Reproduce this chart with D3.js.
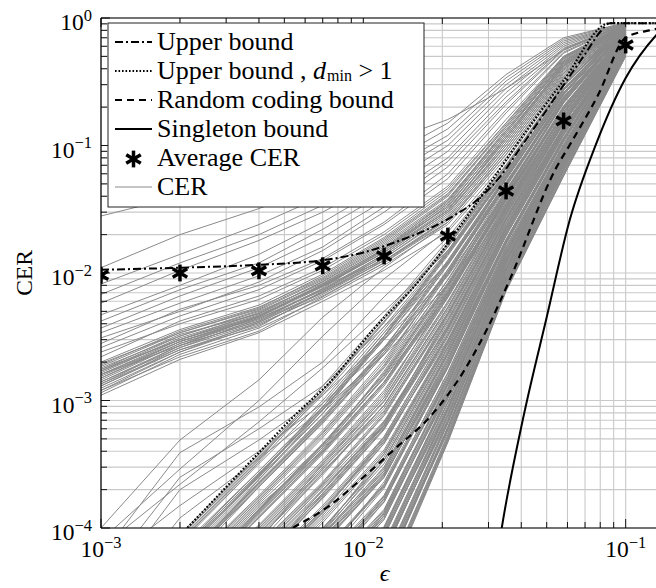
<!DOCTYPE html>
<html>
<head>
<meta charset="utf-8">
<script src="https://cdn.jsdelivr.net/npm/d3@7"></script>
<style>
  html, body { margin: 0; padding: 0; background: #fff; }
  svg text { font-family: "Liberation Serif", "DejaVu Serif", serif; fill: #000; }
</style>
</head>
<body>
<svg id="chart" width="656" height="588"></svg>
<script>
// Erasure probabilities at which every code was simulated
const epsilon = [0.001, 0.002, 0.004, 0.007, 0.012, 0.021, 0.035, 0.058, 0.1];

// Average CER over the ensemble
const averageCER = [0.0096, 0.0100, 0.0104, 0.0114, 0.0136, 0.0195, 0.044, 0.156, 0.614];

// CER of codes with an error floor (one row per code, columns follow epsilon)
const cerFloorCurves = [
  [0.0011, 0.0021, 0.0034, 0.0060, 0.0105, 0.021, 0.07, 0.30, 0.84],
  [0.00115, 0.0023, 0.0037, 0.0063, 0.0115, 0.024, 0.08, 0.33, 0.85],
  [0.0012, 0.0022, 0.0035, 0.0065, 0.012, 0.025, 0.085, 0.34, 0.86],
  [0.00125, 0.0024, 0.0039, 0.0068, 0.0125, 0.026, 0.09, 0.35, 0.85],
  [0.0013, 0.0025, 0.0040, 0.0066, 0.012, 0.027, 0.095, 0.37, 0.86],
  [0.0013, 0.0026, 0.0041, 0.0070, 0.013, 0.028, 0.10, 0.38, 0.87],
  [0.00135, 0.0025, 0.0038, 0.0072, 0.0135, 0.030, 0.10, 0.39, 0.86],
  [0.0014, 0.0027, 0.0042, 0.0071, 0.013, 0.029, 0.105, 0.40, 0.87],
  [0.0014, 0.0026, 0.0044, 0.0075, 0.014, 0.031, 0.11, 0.41, 0.87],
  [0.00145, 0.0028, 0.0043, 0.0074, 0.0135, 0.030, 0.105, 0.40, 0.88],
  [0.0015, 0.0028, 0.0045, 0.0078, 0.0145, 0.032, 0.11, 0.42, 0.87],
  [0.0015, 0.0029, 0.0044, 0.0073, 0.014, 0.031, 0.115, 0.42, 0.88],
  [0.00155, 0.0029, 0.0046, 0.0080, 0.015, 0.033, 0.12, 0.43, 0.88],
  [0.0016, 0.0030, 0.0047, 0.0079, 0.0145, 0.034, 0.115, 0.44, 0.87],
  [0.0016, 0.0029, 0.0045, 0.0082, 0.0155, 0.033, 0.12, 0.43, 0.88],
  [0.00165, 0.0031, 0.0048, 0.0081, 0.015, 0.035, 0.125, 0.45, 0.88],
  [0.0017, 0.0030, 0.0049, 0.0085, 0.016, 0.036, 0.13, 0.46, 0.89],
  [0.0017, 0.0032, 0.0050, 0.0083, 0.0155, 0.035, 0.125, 0.45, 0.88],
  [0.00175, 0.0033, 0.0048, 0.0086, 0.0165, 0.037, 0.135, 0.47, 0.89],
  [0.0018, 0.0032, 0.0051, 0.0088, 0.017, 0.038, 0.13, 0.46, 0.88],
  [0.00185, 0.0034, 0.0052, 0.0090, 0.0175, 0.040, 0.14, 0.48, 0.89],
  [0.0019, 0.0035, 0.0054, 0.0092, 0.018, 0.041, 0.145, 0.49, 0.89],
  [0.00195, 0.0034, 0.0053, 0.0095, 0.0185, 0.042, 0.14, 0.48, 0.90],
  [0.0020, 0.0036, 0.0056, 0.0098, 0.019, 0.044, 0.15, 0.50, 0.90],
  [0.00135, 0.0027, 0.0046, 0.0079, 0.0125, 0.025, 0.09, 0.36, 0.86],
  [0.0016, 0.0027, 0.0042, 0.0076, 0.0155, 0.037, 0.13, 0.44, 0.88],
  [0.0012, 0.0024, 0.0041, 0.0070, 0.0125, 0.027, 0.095, 0.37, 0.86],
  [0.00175, 0.0030, 0.0046, 0.0080, 0.0145, 0.031, 0.115, 0.42, 0.87],
  [0.0022, 0.0042, 0.0066, 0.011, 0.021, 0.048, 0.16, 0.50, 0.89],
  [0.0024, 0.0040, 0.0062, 0.0105, 0.020, 0.046, 0.15, 0.49, 0.88],
  [0.0026, 0.0046, 0.0074, 0.0125, 0.024, 0.055, 0.18, 0.53, 0.89],
  [0.0028, 0.0052, 0.0080, 0.013, 0.025, 0.060, 0.19, 0.54, 0.90],
  [0.0031, 0.0050, 0.0085, 0.015, 0.030, 0.068, 0.21, 0.56, 0.90],
  [0.0034, 0.0058, 0.0095, 0.016, 0.033, 0.075, 0.22, 0.57, 0.90],
  [0.0037, 0.0066, 0.011, 0.019, 0.037, 0.080, 0.24, 0.58, 0.90],
  [0.0042, 0.0074, 0.012, 0.022, 0.042, 0.090, 0.26, 0.60, 0.91],
  [0.0047, 0.0080, 0.014, 0.025, 0.048, 0.10, 0.28, 0.62, 0.91],
  [0.0058, 0.0105, 0.018, 0.030, 0.055, 0.11, 0.30, 0.64, 0.91],
  [0.0068, 0.012, 0.020, 0.034, 0.062, 0.12, 0.32, 0.66, 0.91],
  [0.0082, 0.014, 0.024, 0.040, 0.070, 0.135, 0.34, 0.68, 0.92],
  [0.011, 0.020, 0.032, 0.050, 0.080, 0.15, 0.36, 0.70, 0.92],
  [0.028, 0.040, 0.056, 0.076, 0.105, 0.16, 0.28, 0.56, 0.90]
];

// CER of codes between the two regimes
const cerTransitionCurves = [
  [1.0e-4, 4.9e-4, 1.45e-3, 4.5e-3, 0.011, 0.025, 0.085, 0.34, 0.86],
  [6e-5, 3.9e-4, 8.9e-4, 2.0e-3, 6.5e-3, 0.019, 0.07, 0.30, 0.85],
  [4e-5, 2.5e-4, 6.0e-4, 1.3e-3, 3.8e-3, 0.012, 0.05, 0.25, 0.84],
  [3e-5, 2.0e-4, 4.9e-4, 1.1e-3, 3.0e-3, 9.5e-3, 0.042, 0.22, 0.83],
  [8e-5, 2.9e-4, 1.0e-3, 3.2e-3, 9.0e-3, 0.022, 0.075, 0.32, 0.86],
  [5e-5, 1.5e-4, 4.0e-4, 9.5e-4, 2.6e-3, 8.0e-3, 0.035, 0.20, 0.83],
  [2e-5, 1.2e-4, 3.5e-4, 8.5e-4, 2.3e-3, 7.0e-3, 0.032, 0.18, 0.82],
  [7e-5, 2.2e-4, 6.8e-4, 1.8e-3, 5.0e-3, 0.015, 0.058, 0.27, 0.85]
];

// CER of codes without an error floor (0 = no residual erasure observed)
const cerWaterfallCurves = [
  [0, 8.9e-5, 3.8e-4, 1.2e-3, 4.4e-3, 0.017, 0.068, 0.30, 0.89],
  [0, 8.6e-5, 3.7e-4, 1.15e-3, 4.1e-3, 0.016, 0.067, 0.295, 0.885],
  [0, 8.4e-5, 3.6e-4, 1.1e-3, 3.8e-3, 0.015, 0.066, 0.29, 0.88],
  [0, 8.1e-5, 3.5e-4, 1.2e-3, 4.2e-3, 0.0165, 0.068, 0.30, 0.89],
  [0, 7.9e-5, 3.4e-4, 1.3e-3, 4.6e-3, 0.018, 0.07, 0.31, 0.90],
  [0, 7.7e-5, 3.3e-4, 1.15e-3, 4.1e-3, 0.016, 0.066, 0.295, 0.885],
  [0, 7.5e-5, 3.2e-4, 1.0e-3, 3.6e-3, 0.0145, 0.062, 0.28, 0.87],
  [0, 7.0e-5, 2.8e-4, 8.9e-4, 3.4e-3, 0.0142, 0.061, 0.28, 0.865],
  [0, 6.5e-5, 2.5e-4, 7.9e-4, 3.2e-3, 0.014, 0.06, 0.28, 0.86],
  [0, 6.6e-5, 2.65e-4, 8.4e-4, 3.2e-3, 0.0145, 0.0615, 0.275, 0.86],
  [0, 6.7e-5, 2.8e-4, 8.9e-4, 3.2e-3, 0.015, 0.063, 0.27, 0.86],
  [0, 6.5e-5, 2.7e-4, 8.6e-4, 3.1e-3, 0.0137, 0.06, 0.26, 0.855],
  [0, 6.3e-5, 2.6e-4, 8.4e-4, 3.0e-3, 0.0125, 0.057, 0.25, 0.85],
  [0, 6.1e-5, 2.55e-4, 8.9e-4, 3.2e-3, 0.0122, 0.056, 0.255, 0.845],
  [0, 6.0e-5, 2.5e-4, 9.5e-4, 3.4e-3, 0.012, 0.055, 0.26, 0.84],
  [0, 5.8e-5, 2.4e-4, 8.4e-4, 3.0e-3, 0.0118, 0.0545, 0.255, 0.84],
  [0, 5.6e-5, 2.3e-4, 7.4e-4, 2.6e-3, 0.0115, 0.054, 0.25, 0.84],
  [0, 5.4e-5, 2.25e-4, 7.2e-4, 2.55e-3, 0.012, 0.056, 0.26, 0.85],
  [0, 5.3e-5, 2.2e-4, 7.0e-4, 2.5e-3, 0.0126, 0.058, 0.27, 0.86],
  [0, 5.1e-5, 2.15e-4, 6.8e-4, 2.4e-3, 0.0116, 0.0545, 0.255, 0.845],
  [0, 5.0e-5, 2.1e-4, 6.6e-4, 2.3e-3, 0.0106, 0.051, 0.24, 0.83],
  [0, 4.9e-5, 2.25e-4, 7.2e-4, 2.4e-3, 0.0103, 0.05, 0.24, 0.825],
  [0, 4.8e-5, 2.4e-4, 7.9e-4, 2.5e-3, 0.0101, 0.049, 0.24, 0.82],
  [0, 4.6e-5, 2.1e-4, 6.8e-4, 2.3e-3, 9.9e-3, 0.0485, 0.237, 0.82],
  [0, 4.5e-5, 1.8e-4, 5.8e-4, 2.1e-3, 9.7e-3, 0.048, 0.235, 0.82],
  [0, 4.4e-5, 1.75e-4, 5.6e-4, 2.0e-3, 0.0102, 0.05, 0.232, 0.815],
  [0, 4.3e-5, 1.7e-4, 5.5e-4, 1.9e-3, 0.0107, 0.052, 0.23, 0.81],
  [0, 4.1e-5, 1.65e-4, 5.3e-4, 1.85e-3, 9.7e-3, 0.0485, 0.225, 0.805],
  [0, 4.0e-5, 1.6e-4, 5.1e-4, 1.8e-3, 8.8e-3, 0.045, 0.22, 0.80],
  [0, 3.9e-5, 1.55e-4, 4.5e-4, 1.6e-3, 8.2e-3, 0.044, 0.22, 0.80],
  [0, 3.8e-5, 1.5e-4, 4.0e-4, 1.4e-3, 7.6e-3, 0.043, 0.22, 0.80],
  [0, 3.7e-5, 1.45e-4, 4.3e-4, 1.5e-3, 7.8e-3, 0.042, 0.217, 0.795],
  [0, 3.6e-5, 1.4e-4, 4.6e-4, 1.6e-3, 8.0e-3, 0.041, 0.215, 0.79],
  [0, 3.5e-5, 1.38e-4, 4.45e-4, 1.65e-3, 8.4e-3, 0.044, 0.222, 0.795],
  [0, 3.4e-5, 1.36e-4, 4.3e-4, 1.7e-3, 8.9e-3, 0.047, 0.23, 0.80],
  [0, 3.3e-5, 1.33e-4, 4.15e-4, 1.55e-3, 8.1e-3, 0.0435, 0.217, 0.79],
  [0, 3.2e-5, 1.3e-4, 4.0e-4, 1.4e-3, 7.4e-3, 0.04, 0.205, 0.78],
  [0, 3.1e-5, 1.25e-4, 3.9e-4, 1.35e-3, 7.2e-3, 0.0395, 0.202, 0.775],
  [0, 3.0e-5, 1.2e-4, 3.8e-4, 1.3e-3, 7.0e-3, 0.039, 0.20, 0.77],
  [0, 2.95e-5, 1.3e-4, 4.1e-4, 1.4e-3, 6.85e-3, 0.0385, 0.20, 0.77],
  [0, 2.9e-5, 1.4e-4, 4.5e-4, 1.5e-3, 6.7e-3, 0.038, 0.20, 0.77],
  [0, 2.8e-5, 1.22e-4, 3.9e-4, 1.35e-3, 6.55e-3, 0.0375, 0.195, 0.765],
  [0, 2.7e-5, 1.06e-4, 3.4e-4, 1.2e-3, 6.4e-3, 0.037, 0.19, 0.76],
  [0, 2.65e-5, 1.03e-4, 3.3e-4, 1.15e-3, 6.7e-3, 0.039, 0.192, 0.76],
  [0, 2.6e-5, 1.0e-4, 3.2e-4, 1.1e-3, 7.1e-3, 0.041, 0.195, 0.76],
  [0, 0, 9.7e-5, 3.1e-4, 1.05e-3, 6.5e-3, 0.038, 0.19, 0.755],
  [0, 0, 9.4e-5, 3.0e-4, 1.0e-3, 5.9e-3, 0.035, 0.185, 0.75],
  [0, 0, 9.1e-5, 2.9e-4, 9.1e-4, 5.3e-3, 0.0335, 0.182, 0.748],
  [0, 0, 8.9e-5, 2.8e-4, 8.3e-4, 4.8e-3, 0.032, 0.18, 0.745],
  [0, 0, 8.6e-5, 2.7e-4, 8.7e-4, 5.1e-3, 0.0325, 0.179, 0.742],
  [0, 0, 8.4e-5, 2.6e-4, 9.2e-4, 5.4e-3, 0.033, 0.178, 0.74],
  [0, 0, 8.1e-5, 2.9e-4, 9.8e-4, 5.7e-3, 0.0345, 0.179, 0.74],
  [0, 0, 7.9e-5, 3.2e-4, 1.05e-3, 6.0e-3, 0.036, 0.18, 0.74],
  [0, 0, 7.6e-5, 2.7e-4, 9.2e-4, 5.4e-3, 0.0337, 0.175, 0.735],
  [0, 0, 7.4e-5, 2.3e-4, 8.1e-4, 4.9e-3, 0.0315, 0.17, 0.73],
  [0, 0, 7.2e-5, 2.25e-4, 7.8e-4, 4.8e-3, 0.0307, 0.169, 0.73],
  [0, 0, 7.0e-5, 2.2e-4, 7.6e-4, 4.7e-3, 0.03, 0.168, 0.73],
  [0, 0, 6.7e-5, 2.15e-4, 6.9e-4, 4.2e-3, 0.0285, 0.161, 0.72],
  [0, 0, 6.5e-5, 2.1e-4, 6.3e-4, 3.8e-3, 0.027, 0.155, 0.71],
  [0, 0, 6.3e-5, 2.0e-4, 6.5e-4, 4.05e-3, 0.028, 0.157, 0.715],
  [0, 0, 6.2e-5, 1.95e-4, 6.7e-4, 4.3e-3, 0.029, 0.16, 0.72],
  [0, 0, 6.0e-5, 1.87e-4, 6.5e-4, 4.5e-3, 0.0303, 0.165, 0.72],
  [0, 0, 5.8e-5, 1.8e-4, 6.3e-4, 4.7e-3, 0.0316, 0.17, 0.72],
  [0, 0, 5.6e-5, 1.75e-4, 6.1e-4, 4.3e-3, 0.0293, 0.162, 0.71],
  [0, 0, 5.5e-5, 1.7e-4, 5.9e-4, 3.9e-3, 0.027, 0.154, 0.70],
  [0, 0, 5.3e-5, 1.85e-4, 6.3e-4, 3.8e-3, 0.0268, 0.152, 0.70],
  [0, 0, 5.1e-5, 2.0e-4, 6.8e-4, 3.7e-3, 0.0266, 0.15, 0.70],
  [0, 0, 4.95e-5, 1.75e-4, 6.0e-4, 3.65e-3, 0.0263, 0.149, 0.695],
  [0, 0, 4.8e-5, 1.5e-4, 5.2e-4, 3.6e-3, 0.026, 0.148, 0.69],
  [0, 0, 4.65e-5, 1.45e-4, 5.05e-4, 3.3e-3, 0.0242, 0.141, 0.685],
  [0, 0, 4.5e-5, 1.4e-4, 4.9e-4, 3.0e-3, 0.0224, 0.135, 0.68],
  [0, 0, 4.4e-5, 1.38e-4, 4.75e-4, 3.15e-3, 0.0234, 0.138, 0.685],
  [0, 0, 4.3e-5, 1.36e-4, 4.6e-4, 3.3e-3, 0.0244, 0.142, 0.69],
  [0, 0, 4.15e-5, 1.33e-4, 4.9e-4, 3.45e-3, 0.0252, 0.141, 0.685],
  [0, 0, 4.0e-5, 1.3e-4, 5.2e-4, 3.6e-3, 0.026, 0.14, 0.68],
  [0, 0, 3.9e-5, 1.25e-4, 4.6e-4, 3.25e-3, 0.0245, 0.138, 0.678],
  [0, 0, 3.8e-5, 1.2e-4, 4.1e-4, 2.95e-3, 0.023, 0.136, 0.675],
  [0, 0, 3.7e-5, 1.15e-4, 3.95e-4, 2.87e-3, 0.0225, 0.134, 0.672],
  [0, 0, 3.6e-5, 1.1e-4, 3.8e-4, 2.8e-3, 0.022, 0.133, 0.67],
  [0, 0, 3.5e-5, 9.9e-5, 3.4e-4, 2.6e-3, 0.021, 0.129, 0.665],
  [0, 0, 3.4e-5, 8.9e-5, 3.0e-4, 2.4e-3, 0.02, 0.125, 0.66],
  [0, 0, 3.3e-5, 9.4e-5, 3.2e-4, 2.5e-3, 0.0205, 0.126, 0.66],
  [0, 0, 3.2e-5, 1.0e-4, 3.4e-4, 2.6e-3, 0.021, 0.128, 0.66],
  [0, 0, 3.1e-5, 9.7e-5, 3.6e-4, 2.75e-3, 0.022, 0.131, 0.66],
  [0, 0, 3.0e-5, 9.4e-5, 3.8e-4, 2.9e-3, 0.023, 0.135, 0.66],
  [0, 0, 2.9e-5, 9.1e-5, 3.4e-4, 2.65e-3, 0.0215, 0.128, 0.655],
  [0, 0, 2.8e-5, 8.9e-5, 3.0e-4, 2.4e-3, 0.02, 0.122, 0.65],
  [0, 0, 2.7e-5, 8.6e-5, 2.9e-4, 2.35e-3, 0.0197, 0.121, 0.648],
  [0, 0, 2.6e-5, 8.3e-5, 2.8e-4, 2.3e-3, 0.0195, 0.12, 0.645],
  [0, 0, 2.55e-5, 8.1e-5, 2.7e-4, 2.1e-3, 0.0182, 0.115, 0.638],
  [0, 0, 2.5e-5, 7.9e-5, 2.6e-4, 1.9e-3, 0.017, 0.11, 0.63],
  [0, 0, 2.4e-5, 7.6e-5, 2.55e-4, 2.0e-3, 0.0177, 0.112, 0.635],
  [0, 0, 2.3e-5, 7.4e-5, 2.5e-4, 2.1e-3, 0.0184, 0.115, 0.64],
  [0, 0, 2.25e-5, 8.1e-5, 2.65e-4, 2.2e-3, 0.0182, 0.114, 0.635],
  [0, 0, 2.2e-5, 8.9e-5, 2.8e-4, 2.3e-3, 0.018, 0.113, 0.63],
  [0, 0, 2.15e-5, 7.6e-5, 2.5e-4, 2.1e-3, 0.0177, 0.111, 0.63],
  [0, 0, 2.1e-5, 6.5e-5, 2.2e-4, 1.9e-3, 0.0174, 0.11, 0.63],
  [0, 0, 2.0e-5, 6.35e-5, 2.15e-4, 1.85e-3, 0.0171, 0.109, 0.625],
  [0, 0, 1.9e-5, 6.2e-5, 2.1e-4, 1.8e-3, 0.0169, 0.108, 0.62],
  [0, 0, 1.85e-5, 6.0e-5, 2.2e-4, 1.9e-3, 0.0175, 0.11, 0.62],
  [0, 0, 1.8e-5, 5.8e-5, 2.3e-4, 2.0e-3, 0.018, 0.112, 0.62],
  [0, 0, 1.75e-5, 5.65e-5, 2.05e-4, 1.82e-3, 0.017, 0.108, 0.618],
  [0, 0, 1.7e-5, 5.5e-5, 1.8e-4, 1.65e-3, 0.016, 0.104, 0.615],
  [0, 0, 1.65e-5, 5.3e-5, 1.75e-4, 1.52e-3, 0.015, 0.101, 0.612],
  [0, 0, 1.6e-5, 5.1e-5, 1.7e-4, 1.4e-3, 0.014, 0.098, 0.61],
  [0, 0, 1.55e-5, 4.95e-5, 1.65e-4, 1.45e-3, 0.0145, 0.0985, 0.608],
  [0, 0, 1.5e-5, 4.8e-5, 1.6e-4, 1.5e-3, 0.015, 0.099, 0.605],
  [0, 0, 1.45e-5, 4.65e-5, 1.7e-4, 1.58e-3, 0.0156, 0.0995, 0.602],
  [0, 0, 1.4e-5, 4.5e-5, 1.8e-4, 1.66e-3, 0.0162, 0.10, 0.60],
  [0, 0, 1.4e-5, 4.4e-5, 1.6e-4, 1.52e-3, 0.0152, 0.0975, 0.60],
  [0, 0, 1.4e-5, 4.3e-5, 1.4e-4, 1.38e-3, 0.0143, 0.095, 0.60],
  [0, 0, 1.35e-5, 4.15e-5, 1.37e-4, 1.35e-3, 0.0141, 0.094, 0.595],
  [0, 0, 1.3e-5, 4.0e-5, 1.33e-4, 1.32e-3, 0.0139, 0.093, 0.59],
  [0, 0, 1.25e-5, 3.9e-5, 1.29e-4, 1.22e-3, 0.0131, 0.089, 0.585],
  [0, 0, 1.2e-5, 3.8e-5, 1.25e-4, 1.12e-3, 0.0123, 0.085, 0.58],
  [0, 0, 1.15e-5, 3.7e-5, 1.21e-4, 1.16e-3, 0.0127, 0.0875, 0.582],
  [0, 0, 1.1e-5, 3.6e-5, 1.17e-4, 1.2e-3, 0.0131, 0.09, 0.585],
  [0, 0, 1.08e-5, 3.5e-5, 1.25e-4, 1.27e-3, 0.0136, 0.09, 0.582],
  [0, 0, 1.06e-5, 3.4e-5, 1.32e-4, 1.35e-3, 0.0141, 0.09, 0.58],
  [0, 0, 1.03e-5, 3.3e-5, 1.17e-4, 1.22e-3, 0.0132, 0.088, 0.578],
  [0, 0, 1.0e-5, 3.2e-5, 1.03e-4, 1.1e-3, 0.0124, 0.086, 0.575],
  [0, 0, 9.7e-6, 3.1e-5, 1.0e-4, 1.07e-3, 0.0122, 0.085, 0.572],
  [0, 0, 9.4e-6, 3.0e-5, 9.7e-5, 1.05e-3, 0.012, 0.084, 0.57],
  [0, 0, 9.1e-6, 2.9e-5, 9.4e-5, 9.6e-4, 0.0112, 0.081, 0.565],
  [0, 0, 8.9e-6, 2.8e-5, 9.1e-5, 8.7e-4, 0.0105, 0.078, 0.56],
  [0, 0, 8.6e-6, 2.7e-5, 8.8e-5, 9.1e-4, 0.011, 0.079, 0.562],
  [0, 0, 8.3e-6, 2.6e-5, 8.6e-5, 9.6e-4, 0.0114, 0.08, 0.565],
  [0, 0, 8.1e-6, 2.55e-5, 9.3e-5, 1.03e-3, 0.012, 0.081, 0.562],
  [0, 0, 7.9e-6, 2.5e-5, 1.0e-4, 1.1e-3, 0.0126, 0.082, 0.56],
  [0, 0, 7.6e-6, 2.4e-5, 8.7e-5, 9.8e-4, 0.0117, 0.0795, 0.558],
  [0, 0, 7.4e-6, 2.3e-5, 7.6e-5, 8.8e-4, 0.0108, 0.077, 0.555],
  [0, 0, 7.2e-6, 2.25e-5, 7.35e-5, 8.6e-4, 0.0106, 0.076, 0.552],
  [0, 0, 7.0e-6, 2.2e-5, 7.1e-5, 8.4e-4, 0.0104, 0.075, 0.55],
  [0, 0, 6.7e-6, 2.15e-5, 6.9e-5, 7.7e-4, 9.7e-3, 0.072, 0.545],
  [0, 0, 6.5e-6, 2.1e-5, 6.7e-5, 7.1e-4, 9.1e-3, 0.069, 0.54],
  [0, 0, 6.35e-6, 2.0e-5, 6.5e-5, 7.4e-4, 9.5e-3, 0.071, 0.542],
  [0, 0, 6.2e-6, 1.95e-5, 6.3e-5, 7.7e-4, 9.9e-3, 0.0725, 0.543],
  [0, 0, 6.0e-6, 1.9e-5, 6.7e-5, 8.1e-4, 0.0103, 0.073, 0.541],
  [0, 0, 5.8e-6, 1.84e-5, 7.1e-5, 8.5e-4, 0.0107, 0.074, 0.54],
  [0, 0, 5.65e-6, 1.77e-5, 6.3e-5, 7.7e-4, 0.01, 0.072, 0.538],
  [0, 0, 5.5e-6, 1.7e-5, 5.5e-5, 7.0e-4, 9.3e-3, 0.0695, 0.535],
  [0, 0, 5.3e-6, 1.65e-5, 5.35e-5, 6.85e-4, 9.15e-3, 0.069, 0.532],
  [0, 0, 5.1e-6, 1.6e-5, 5.2e-5, 6.7e-4, 9.0e-3, 0.068, 0.53],
  [0, 0, 4.95e-6, 1.55e-5, 5.05e-5, 6.1e-4, 8.4e-3, 0.066, 0.528],
  [0, 0, 4.8e-6, 1.5e-5, 4.9e-5, 5.6e-4, 7.9e-3, 0.064, 0.525],
  [0, 0, 4.65e-6, 1.47e-5, 4.75e-5, 5.85e-4, 8.25e-3, 0.0645, 0.524],
  [0, 0, 4.5e-6, 1.44e-5, 4.6e-5, 6.1e-4, 8.6e-3, 0.065, 0.524],
  [0, 0, 4.4e-6, 1.4e-5, 4.45e-5, 6.0e-4, 8.45e-3, 0.0645, 0.522],
  [0, 0, 4.3e-6, 1.36e-5, 4.3e-5, 5.9e-4, 8.3e-3, 0.064, 0.52],
  [0, 0, 4.15e-6, 1.31e-5, 4.65e-5, 6.25e-4, 8.7e-3, 0.065, 0.52],
  [0, 0, 4.0e-6, 1.27e-5, 5.0e-5, 6.6e-4, 9.1e-3, 0.066, 0.52],
  [0, 0, 3.9e-6, 1.23e-5, 4.35e-5, 6.0e-4, 8.5e-3, 0.0635, 0.516],
  [0, 0, 3.8e-6, 1.2e-5, 3.8e-5, 5.4e-4, 7.9e-3, 0.061, 0.513],
  [0, 0, 3.7e-6, 1.16e-5, 3.7e-5, 5.25e-4, 7.8e-3, 0.0605, 0.512],
  [0, 0, 3.6e-6, 1.13e-5, 3.6e-5, 5.1e-4, 7.7e-3, 0.06, 0.51],
  [0, 0, 3.5e-6, 1.1e-5, 3.5e-5, 5.0e-4, 7.55e-3, 0.0595, 0.508],
  [0, 0, 3.4e-6, 1.06e-5, 3.4e-5, 4.9e-4, 7.4e-3, 0.059, 0.506],
  [0, 0, 3.3e-6, 1.03e-5, 3.3e-5, 4.8e-4, 7.3e-3, 0.058, 0.503],
  [0, 0, 3.2e-6, 1.0e-5, 3.2e-5, 4.7e-4, 7.2e-3, 0.0575, 0.50]
];

// Analytical bounds, each as (epsilon, CER) samples
const upperBoundEps = [0.001, 0.002, 0.004, 0.007, 0.01, 0.014, 0.018, 0.022, 0.027, 0.033, 0.04, 0.05, 0.06, 0.07, 0.08, 0.087, 0.15];
const upperBoundCER = [0.0106, 0.011, 0.0116, 0.0126, 0.0145, 0.0182, 0.0225, 0.028, 0.037, 0.056, 0.098, 0.19, 0.33, 0.52, 0.78, 0.91, 0.91];

const dminBoundEps = [0.0018, 0.00213, 0.004, 0.0056, 0.0074, 0.0109, 0.0164, 0.0248, 0.042, 0.0575, 0.087, 0.15];
const dminBoundCER = [7e-5, 1e-4, 3.9e-4, 8e-4, 1.37e-3, 3.6e-3, 8.8e-3, 0.0275, 0.132, 0.315, 0.91, 0.91];

const randomCodingEps = [0.0045, 0.00538, 0.00745, 0.01, 0.0134, 0.0179, 0.0239, 0.0295, 0.0361, 0.0546, 0.0612, 0.0785, 0.1, 0.123, 0.15];
const randomCodingCER = [8e-5, 1e-4, 1.5e-4, 2.5e-4, 4.3e-4, 7.4e-4, 1.64e-3, 3.57e-3, 8.8e-3, 0.068, 0.101, 0.249, 0.70, 0.80, 0.86];

const singletonEps = [0.032, 0.0337, 0.0405, 0.05, 0.0612, 0.0769, 0.1, 0.131, 0.15];
const singletonCER = [5e-5, 1e-4, 7e-4, 4.5e-3, 0.026, 0.101, 0.338, 0.736, 0.96];

// Axis decades and their exponent labels
const xDecades = [1e-3, 1e-2, 1e-1];
const xDecadeExp = ["\u22123", "\u22122", "\u22121"];
const yDecades = [1e-4, 1e-3, 1e-2, 1e-1, 1];
const yDecadeExp = ["\u22124", "\u22123", "\u22122", "\u22121", "0"];

// ---------------------------------------------------------------------------
const FONT = "Liberation Serif, DejaVu Serif, serif";
const svg = d3.select("#chart");
const plot = { left: 101, right: 668, top: 18, bottom: 528 };

const x = d3.scaleLog().domain([1e-3, 0.145]).range([plot.left, plot.right]);
const y = d3.scaleLog().domain([1e-4, 1]).range([plot.bottom, plot.top]);

svg.append("defs").append("clipPath").attr("id", "plot-clip")
  .append("rect")
  .attr("x", plot.left).attr("y", plot.top)
  .attr("width", plot.right - plot.left).attr("height", plot.bottom - plot.top);

// Grid (major and minor decades)
const grid = svg.append("g").attr("stroke", "#c9c9c9").attr("stroke-width", 1.1);
grid.selectAll("line.gx").data(x.ticks()).join("line")
  .attr("x1", d => x(d)).attr("x2", d => x(d))
  .attr("y1", plot.top).attr("y2", plot.bottom);
grid.selectAll("line.gy").data(y.ticks()).join("line")
  .attr("x1", plot.left).attr("x2", plot.right)
  .attr("y1", d => y(d)).attr("y2", d => y(d));

const area = svg.append("g").attr("clip-path", "url(#plot-clip)");

const curve = d3.line()
  .defined(d => d[1] > 0)
  .x(d => x(d[0])).y(d => y(d[1]));

const pairs = row => epsilon.map((e, i) => [e, row[i]]);
const allCurves = cerWaterfallCurves.concat(cerTransitionCurves, cerFloorCurves);

area.append("g")
  .attr("fill", "none").attr("stroke", "#8a8a8a").attr("stroke-width", 1)
  .selectAll("path").data(allCurves).join("path")
  .attr("d", row => curve(pairs(row)));

// Bounds
const smooth = d3.line().curve(d3.curveMonotoneX).x(d => x(d[0])).y(d => y(d[1]));
const zipPts = (xs, ys) => xs.map((v, i) => [v, ys[i]]);

const boundStyles = [
  { pts: zipPts(upperBoundEps, upperBoundCER), dash: "8,3,2,3", w: 2 },
  { pts: zipPts(dminBoundEps, dminBoundCER), dash: "1.6,1.9", w: 2.2 },
  { pts: zipPts(randomCodingEps, randomCodingCER), dash: "7,5", w: 2.2 },
  { pts: zipPts(singletonEps, singletonCER), dash: null, w: 2 }
];

area.append("g").attr("fill", "none").attr("stroke", "#000")
  .selectAll("path").data(boundStyles).join("path")
  .attr("stroke-width", d => d.w)
  .attr("stroke-dasharray", d => d.dash)
  .attr("d", d => smooth(d.pts));

// Asterisk marker (three bars through the centre)
function asterisk(g, cx, cy, r) {
  [90, 30, -30].map(a => a * Math.PI / 180).forEach(a => {
    g.append("line")
      .attr("x1", cx - r * Math.cos(a)).attr("y1", cy - r * Math.sin(a))
      .attr("x2", cx + r * Math.cos(a)).attr("y2", cy + r * Math.sin(a));
  });
}

const stars = area.append("g").attr("stroke", "#000").attr("stroke-width", 3.5);
epsilon.forEach((e, i) => asterisk(stars, x(e), y(averageCER[i]), 8.4));

// Frame, ticks and labels
const frame = svg.append("g").attr("stroke", "#000").attr("stroke-width", 1.2);
frame.append("line").attr("x1", plot.left).attr("x2", plot.left).attr("y1", plot.top).attr("y2", plot.bottom);
frame.append("line").attr("x1", plot.left).attr("x2", plot.right).attr("y1", plot.bottom).attr("y2", plot.bottom);
frame.append("line").attr("x1", plot.left).attr("x2", plot.right).attr("y1", plot.top).attr("y2", plot.top);

const isDecade = v => Math.abs(Math.log10(v) - Math.round(Math.log10(v))) < 1e-6;
const ticks = svg.append("g").attr("stroke", "#000").attr("stroke-width", 0.9);
x.ticks().forEach(v => {
  const len = isDecade(v) ? 9 : 6;
  ticks.append("line").attr("x1", x(v)).attr("x2", x(v)).attr("y1", plot.bottom).attr("y2", plot.bottom - len);
  ticks.append("line").attr("x1", x(v)).attr("x2", x(v)).attr("y1", plot.top).attr("y2", plot.top + len);
});
y.ticks().forEach(v => {
  const len = isDecade(v) ? 9 : 6;
  ticks.append("line").attr("x1", plot.left).attr("x2", plot.left + len).attr("y1", y(v)).attr("y2", y(v));
});

function powerLabel(sel, exp) {
  sel.append("tspan").text("10");
  sel.append("tspan").attr("font-size", 16.5).attr("dy", -9.5).text(exp);
}

xDecades.forEach((v, i) => {
  const t = svg.append("text").attr("font-family", FONT).attr("x", x(v)).attr("y", 557)
    .attr("text-anchor", "middle").attr("font-size", 23.5);
  powerLabel(t, xDecadeExp[i]);
});
yDecades.forEach((v, i) => {
  const t = svg.append("text").attr("font-family", FONT).attr("x", 92).attr("y", y(v) + 12)
    .attr("text-anchor", "end").attr("font-size", 23.5);
  powerLabel(t, yDecadeExp[i]);
});

svg.append("text").attr("font-family", FONT).attr("x", (plot.left + plot.right) / 2).attr("y", 581)
  .attr("text-anchor", "middle").attr("font-size", 24).attr("font-style", "italic")
  .text("\u03F5");
svg.append("text").attr("font-family", FONT)
  .attr("transform", `translate(32,${(plot.top + plot.bottom) / 2}) rotate(-90)`)
  .attr("text-anchor", "middle").attr("font-size", 23.5).text("CER");

// Legend
const legend = svg.append("g");
legend.append("rect").attr("x", 108).attr("y", 23).attr("width", 316).attr("height", 184)
  .attr("fill", "#fff").attr("stroke", "#222").attr("stroke-width", 1);

const legendRows = [
  { label: "Upper bound", kind: "line", dash: "8,3,2,3", w: 2, color: "#000" },
  { label: null, kind: "line", dash: "1.6,1.9", w: 2.2, color: "#000" },
  { label: "Random coding bound", kind: "line", dash: "7,5", w: 2.2, color: "#000" },
  { label: "Singleton bound", kind: "line", dash: null, w: 2, color: "#000" },
  { label: "Average CER", kind: "star" },
  { label: "CER", kind: "line", dash: null, w: 1, color: "#8a8a8a" }
];

const LEGEND_SIZE = 26;
legendRows.forEach((r, i) => {
  const base = 50 + i * 29;
  if (r.kind === "line") {
    legend.append("line").attr("x1", 115).attr("x2", 152).attr("y1", base - 8).attr("y2", base - 8)
      .attr("stroke", r.color).attr("stroke-width", r.w).attr("stroke-dasharray", r.dash);
  } else {
    const g = legend.append("g").attr("stroke", "#000").attr("stroke-width", 3.5);
    asterisk(g, 133.5, base - 7, 8.4);
  }
  if (r.label !== null) {
    legend.append("text").attr("font-family", FONT).attr("x", 157).attr("y", base)
      .attr("font-size", LEGEND_SIZE).text(r.label);
  } else {
    // "Upper bound , d_min > 1" set as consecutive pieces
    const pieces = [
      { s: "Upper\u00A0bound\u00A0,\u00A0", size: LEGEND_SIZE, dy: 0, italic: false, gap: 0 },
      { s: "d", size: LEGEND_SIZE, dy: 0, italic: true, gap: 1 },
      { s: "min", size: 16, dy: 2, italic: false, gap: 0 },
      { s: "\u00A0>\u00A01", size: LEGEND_SIZE, dy: 0, italic: false, gap: 0 }
    ];
    let cx = 157;
    pieces.forEach(p => {
      const t = legend.append("text").attr("font-family", FONT).attr("x", cx).attr("y", base + p.dy)
        .attr("font-size", p.size).attr("font-style", p.italic ? "italic" : null).text(p.s);
      cx += t.node().getComputedTextLength() + p.gap;
    });
  }
});
</script>
</body>
</html>
